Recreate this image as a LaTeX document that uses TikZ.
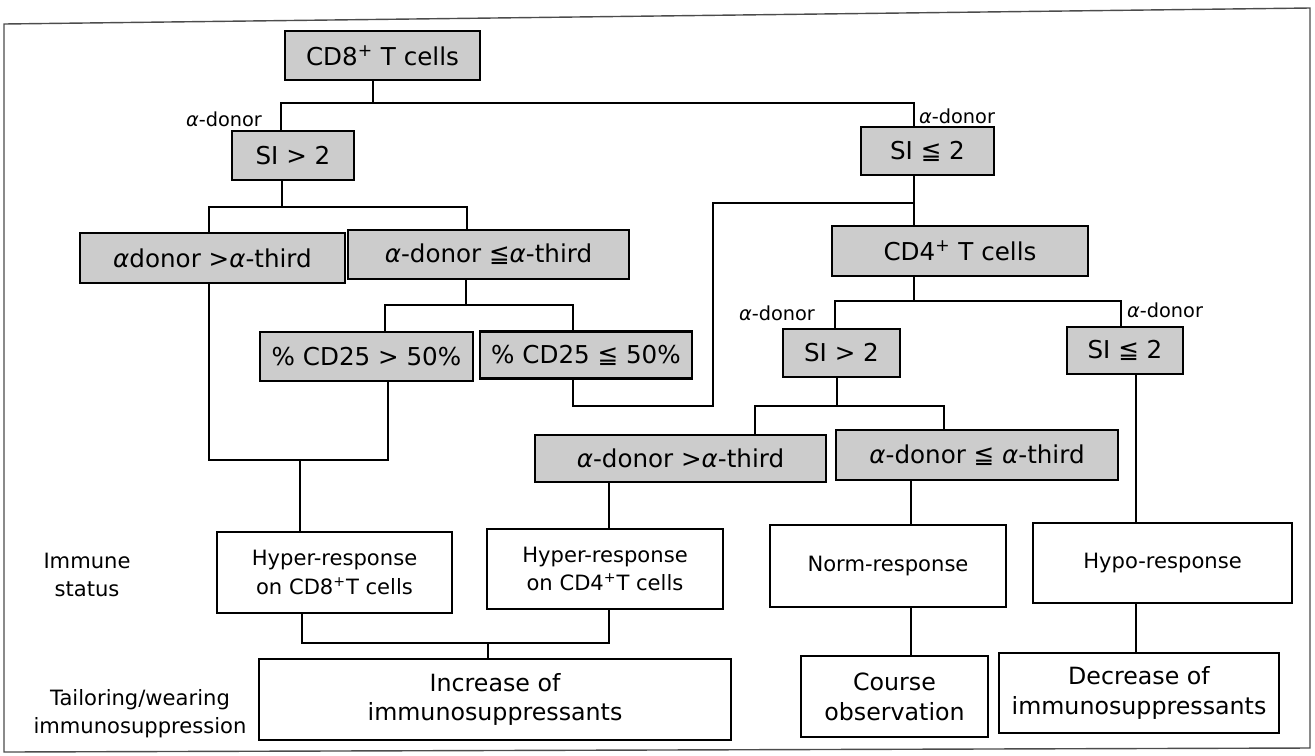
\documentclass[tikz,border=0pt]{standalone}
\usepackage{fontspec}
\setmainfont{DejaVu Sans}
\newcommand{\alp}{{\itshape α}}

\tikzstyle{block} = [rectangle, draw=black, fill=black!20, line width=1.4pt, inner sep=0pt, text centered, font=\fontsize{14}{17}\selectfont]
\tikzstyle{result} = [rectangle, draw=black, fill=white, line width=1.4pt, inner sep=0pt, align=center, font=\fontsize{12}{16}\selectfont]
\tikzstyle{action} = [result, font=\fontsize{13.5}{17}\selectfont]
\tikzstyle{link} = [line width=1.1pt]
\tikzstyle{donor} = [inner sep=1pt, font=\fontsize{11}{13}\selectfont]
\tikzstyle{side} = [align=center, font=\fontsize{12}{16}\selectfont]
\tikzset{boxsize/.style 2 args={minimum width=#1*0.02cm, minimum height=#2*0.02cm}}

\begin{document}
\begin{tikzpicture}[x=0.02cm, y=-0.02cm]

    \useasboundingbox (0,0) rectangle (1315,755);
    \draw [line width=0.8pt, black!70] (4,24) -- (1310,8) -- (1310,748) -- (4,752) -- cycle;

    % Draw nodes
    \node (cd8) [block, boxsize={195}{49}] at (382.5,55.5) {CD8\textsuperscript{+} T cells};
    \node (siA) [block, boxsize={122}{49}] at (293,155.5) {SI > 2};
    \node (siB) [block, boxsize={133}{48}] at (927.5,151) {SI ≦ 2};
    \node (rA1) [block, boxsize={265}{50}] at (212.5,258) {\alp donor >\alp-third};
    \node (rA2) [block, boxsize={281}{49}] at (488.5,254.5) {\alp-donor ≦\alp-third};
    \node (cdHi) [block, boxsize={213}{49}] at (366.5,356.5) {\% CD25 > 50\%};
    \node (cdLo) [block, boxsize={212}{47}] at (586,355) {\% CD25 ≦ 50\%};
    \node (cd4) [block, boxsize={256}{50}] at (960,251) {CD4\textsuperscript{+} T cells};
    \node (siC) [block, boxsize={117}{48}] at (841.5,353) {SI > 2};
    \node (siD) [block, boxsize={116}{47}] at (1125,350.5) {SI ≦ 2};
    \node (rB1) [block, boxsize={291}{47}] at (680.5,458.5) {\alp-donor >\alp-third};
    \node (rB2) [block, boxsize={282}{50}] at (977,455) {\alp-donor ≦ \alp-third};

    \node (hyp8) [result, boxsize={235}{81}] at (334.5,572.5) {Hyper-response\\on CD8\textsuperscript{+}T cells};
    \node (hyp4) [result, boxsize={236}{80}] at (605,569) {Hyper-response\\on CD4\textsuperscript{+}T cells};
    \node (norm) [result, boxsize={236}{82}] at (888,566) {Norm-response};
    \node (hypo) [result, boxsize={259}{80}] at (1162.5,563) {Hypo-response};

    \node (incr) [action, boxsize={472}{81}] at (495,699.5) {Increase of\\immunosuppressants};
    \node (course) [action, boxsize={187}{81}] at (894.5,696.5) {Course\\observation};
    \node (decr) [action, boxsize={280}{80}] at (1139,693) {Decrease of\\immunosuppressants};

    \node (immune) [side] at (87,575) {Immune\\status};
    \node (tailor) [side] at (140,714) {Tailoring/wearing\\immunosuppression};

    % branch labels
    \node (lbA) [donor, anchor=east] at (264,119) {\alp-donor};
    \node (lbB) [donor, anchor=west] at (917,116) {\alp-donor};
    \node (lbC) [donor, anchor=east] at (817,313) {\alp-donor};
    \node (lbD) [donor, anchor=west] at (1125,310) {\alp-donor};

    % junctions
    \coordinate (c8) at (373,103);
    \coordinate (c8l) at (281,103);
    \coordinate (c8r) at (914,103);
    \coordinate (kA) at (282,207);
    \coordinate (kAl) at (209,207);
    \coordinate (kAr) at (467,207);
    \coordinate (kB) at (466,305);
    \coordinate (kBl) at (385,305);
    \coordinate (kBr) at (573,305);
    \coordinate (mA) at (300,460);
    \coordinate (mAl) at (209,460);
    \coordinate (mAr) at (388,460);
    \coordinate (lp) at (713,406);
    \coordinate (jn) at (914,203);
    \coordinate (kC) at (914,301);
    \coordinate (kCl) at (835,301);
    \coordinate (kCr) at (1121,301);
    \coordinate (kD) at (837,406);
    \coordinate (kDl) at (755,406);
    \coordinate (kDr) at (944,406);
    \coordinate (mB) at (609,643);
    \coordinate (mBl) at (302,643);
    \coordinate (mC) at (488,643);
    \coordinate (kE) at (911,610);
    \coordinate (kF) at (1136,610);

    % Draw connections
    \draw [link] (c8 |- cd8.south) -- (c8);
    \draw [link] (c8l |- siA.north) |- (c8r) -- (c8r |- siB.north);
    \draw [link] (kA |- siA.south) -- (kA);
    \draw [link] (kAl |- rA1.north) |- (kAr) -- (kAr |- rA2.north);
    \draw [link] (kB |- rA2.south) -- (kB);
    \draw [link] (kBl |- cdHi.north) |- (kBr) -- (kBr |- cdLo.north);
    \draw [link] (mAl |- rA1.south) |- (mAr) -- (mAr |- cdHi.south);
    \draw [link] (mA) -- (mA |- hyp8.north);
    \draw [link] (kBr |- cdLo.south) |- (lp) |- (jn);
    \draw [link] (jn |- siB.south) -- (jn |- cd4.north);
    \draw [link] (kC |- cd4.south) -- (kC);
    \draw [link] (kCl |- siC.north) |- (kCr) -- (kCr |- siD.north);
    \draw [link] (kD |- siC.south) -- (kD);
    \draw [link] (kDl |- rB1.north) |- (kDr) -- (kDr |- rB2.north);
    \draw [link] (mB |- rB1.south) -- (mB |- hyp4.north);
    \draw [link] (kE |- rB2.south) -- (kE |- norm.north);
    \draw [link] (kF |- siD.south) -- (kF |- hypo.north);
    \draw [link] (mBl |- hyp8.south) |- (mB) -- (mB |- hyp4.south);
    \draw [link] (mC) -- (mC |- incr.north);
    \draw [link] (kE |- norm.south) -- (kE |- course.north);
    \draw [link] (kF |- hypo.south) -- (kF |- decr.north);

\end{tikzpicture}
\end{document}
